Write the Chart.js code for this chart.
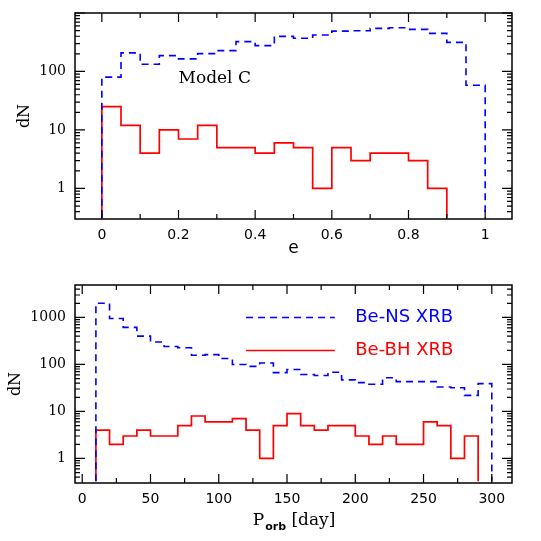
<!DOCTYPE html>
<html>
<head>
<meta charset="utf-8">
<script src="https://cdn.jsdelivr.net/npm/chart.js@4"></script>
<style>
  html, body { margin: 0; padding: 0; background: #fff; }
  #wrap { position: relative; width: 541px; height: 541px; }
  canvas { position: absolute; left: 0; }
</style>
</head>
<body>
<div id="wrap">
  <canvas id="painelE" width="541" height="270" style="top:0px"></canvas>
  <canvas id="painelP" width="541" height="271" style="top:270px"></canvas>
</div>
<script>
// excentricidade: bins de 0.05
const eBordas = [0, 0.05, 0.1, 0.15, 0.2, 0.25, 0.3, 0.35, 0.4, 0.45, 0.5,
                 0.55, 0.6, 0.65, 0.7, 0.75, 0.8, 0.85, 0.9, 0.95, 1.0];
const eNS = [80, 208, 133, 187, 164, 202, 227, 324, 277, 399,
             369, 420, 490, 497, 545, 559, 524, 448, 315, 58];
const eBH = [25, 12, 4, 10, 7, 12, 5, 5, 4, 6, 5, 1, 5, 3, 4, 4, 3, 1];
const eTicks = [0, 0.2, 0.4, 0.6, 0.8, 1];
const eRotulos = ['0', '0.2', '0.4', '0.6', '0.8', '1'];
const eMenores = [0.1, 0.3, 0.5, 0.7, 0.9];

// periodo orbital: bins de 10 dias
const pBordas = [10, 20, 30, 40, 50, 60, 70, 80, 90, 100, 110, 120, 130, 140, 150,
                 160, 170, 180, 190, 200, 210, 220, 230, 240, 250, 260, 270, 280, 290, 300];
const pNS = [2000, 950, 615, 400, 300, 240, 226, 157, 162, 134, 100, 91, 107, 67, 78,
             61, 58, 68, 47, 41, 38, 52, 43, 43, 43, 33, 32, 22, 39];
const pBH = [4, 2, 3, 4, 3, 3, 5, 8, 6, 6, 7, 4, 1, 5, 9, 5, 4, 5, 5, 3, 2, 3, 2, 2, 6, 5, 1, 3];
const pTicks = [0, 50, 100, 150, 200, 250, 300];
const pRotulos = ['0', '50', '100', '150', '200', '250', '300'];
const pMenores = [25, 75, 125, 175, 225, 275];

const dnTopo = [1, 10, 100, 1000];
const dnTopoRot = ['1', '10', '100', ''];
const dnBaixo = [1, 10, 100, 1000];
const dnBaixoRot = ['1', '10', '100', '1000'];

const AZUL = '#0000ff';
const VERMELHO = '#ff0000';

// monta a curva em degraus a partir das bordas e contagens
function degraus(bordas, contagens, piso) {
  var pts = [{ x: bordas[0], y: piso }];
  for (var i = 0; i < contagens.length; i++) {
    pts.push({ x: bordas[i], y: contagens[i] });
  }
  pts.push({ x: bordas[contagens.length], y: piso });
  return pts;
}

// menores do eixo log (2..9 x decada)
function menoresLog(min, max) {
  var lista = [];
  for (var d = 0.1; d < max; d *= 10) {
    for (var k = 2; k <= 9; k++) {
      var v = k * d;
      if (v > min && v < max) lista.push(v);
    }
  }
  return lista;
}

// ticks para dentro nos quatro lados + moldura
const moldura = {
  id: 'moldura',
  afterDatasetsDraw(chart, args, opts) {
    var ctx = chart.ctx, a = chart.chartArea;
    var sx = chart.scales.x, sy = chart.scales.y;
    ctx.save();
    ctx.strokeStyle = '#000';
    ctx.lineWidth = 1.2;
    ctx.beginPath();
    function tx(v, len) {
      var p = sx.getPixelForValue(v);
      ctx.moveTo(p, a.bottom); ctx.lineTo(p, a.bottom - len);
      ctx.moveTo(p, a.top); ctx.lineTo(p, a.top + len);
    }
    function ty(v, len) {
      var p = sy.getPixelForValue(v);
      ctx.moveTo(a.left, p); ctx.lineTo(a.left + len, p);
      ctx.moveTo(a.right, p); ctx.lineTo(a.right - len, p);
    }
    opts.xMaior.forEach(function (v) { tx(v, 9); });
    opts.xMenor.forEach(function (v) { tx(v, 5); });
    opts.yMaior.forEach(function (v) { ty(v, 10); });
    opts.yMenor.forEach(function (v) { ty(v, 5); });
    ctx.stroke();
    ctx.lineWidth = 1.5;
    ctx.strokeRect(a.left, a.top, a.right - a.left, a.bottom - a.top);
    ctx.restore();
  }
};

// textos soltos (rotulo do modelo, legenda, titulo com subscrito)
const textos = {
  id: 'textos',
  afterDraw(chart, args, opts) {
    var ctx = chart.ctx, sx = chart.scales.x, sy = chart.scales.y, a = chart.chartArea;
    ctx.save();
    ctx.textBaseline = 'middle';
    (opts.rotulos || []).forEach(function (r) {
      ctx.font = r.fonte;
      ctx.fillStyle = r.cor;
      ctx.textAlign = 'left';
      ctx.fillText(r.texto, sx.getPixelForValue(r.x), sy.getPixelForValue(r.y));
    });
    (opts.linhas || []).forEach(function (l) {
      ctx.strokeStyle = l.cor;
      ctx.lineWidth = 1.6;
      ctx.setLineDash(l.tracos || []);
      ctx.beginPath();
      var py = sy.getPixelForValue(l.y);
      ctx.moveTo(sx.getPixelForValue(l.x0), py);
      ctx.lineTo(sx.getPixelForValue(l.x1), py);
      ctx.stroke();
    });
    ctx.setLineDash([]);
    if (opts.tituloP) {
      var f1 = '17px "DejaVu Serif"', f2 = 'bold 11px "DejaVu Sans"';
      ctx.font = f1; var w1 = ctx.measureText('P').width;
      var w3 = ctx.measureText(' [day]').width;
      ctx.font = f2; var w2 = ctx.measureText('orb').width;
      var x0 = (a.left + a.right) / 2 - (w1 + w2 + w3) / 2;
      var yb = opts.tituloP.y;
      ctx.fillStyle = '#000';
      ctx.textAlign = 'left';
      ctx.textBaseline = 'alphabetic';
      ctx.font = f1; ctx.fillText('P', x0, yb);
      ctx.font = f2; ctx.fillText('orb', x0 + w1 + 1, yb + 5);
      ctx.font = f1; ctx.fillText(' [day]', x0 + w1 + w2 + 1, yb);
    }
    ctx.restore();
  }
};

function eixoX(min, max, ticks, rotulos, altura, titulo) {
  return {
    type: 'linear', min: min, max: max,
    grid: { display: false, drawTicks: false },
    border: { display: false },
    afterBuildTicks: function (s) { s.ticks = ticks.map(function (v) { return { value: v }; }); },
    afterFit: function (s) { s.height = altura; s.paddingLeft = 0; s.paddingRight = 0; },
    ticks: {
      padding: 8, color: '#000', maxRotation: 0, autoSkip: false,
      font: { family: 'DejaVu Sans', size: 14 },
      callback: function (v, i) { return rotulos[i]; }
    },
    title: titulo
  };
}

function eixoY(min, max, ticks, rotulos, padTitulo) {
  return {
    type: 'logarithmic', min: min, max: max,
    grid: { display: false, drawTicks: false },
    border: { display: false },
    afterBuildTicks: function (s) { s.ticks = ticks.map(function (v) { return { value: v }; }); },
    afterFit: function (s) { s.width = 75; s.paddingTop = 0; s.paddingBottom = 0; },
    ticks: {
      padding: 9, color: '#000', autoSkip: false,
      font: { family: 'DejaVu Serif', size: 14 },
      callback: function (v, i) { return rotulos[i]; }
    },
    title: {
      display: true, text: 'dN', color: '#000',
      font: { family: 'DejaVu Serif', size: 16 },
      padding: { top: padTitulo, bottom: 0 }
    }
  };
}

var pisoE = 0.315, topoE = 1000;
var pisoP = 0.325, topoP = 4900;

new Chart(document.getElementById('painelE'), {
  type: 'line',
  data: {
    datasets: [
      { data: degraus(eBordas, eNS, pisoE), borderColor: AZUL, borderWidth: 1.6,
        borderDash: [7, 5], stepped: true, pointRadius: 0, fill: false },
      { data: degraus(eBordas, eBH, pisoE), borderColor: VERMELHO, borderWidth: 1.7,
        stepped: true, pointRadius: 0, fill: false }
    ]
  },
  options: {
    responsive: false, animation: false, devicePixelRatio: 1,
    layout: { padding: { top: 13, right: 29, left: 0, bottom: 0 } },
    scales: {
      x: eixoX(-0.07, 1.07, eTicks, eRotulos, 51, {
        display: true, text: 'e', color: '#000',
        font: { family: 'DejaVu Sans', size: 17 }, padding: { top: 0, bottom: 11 }
      }),
      y: eixoY(pisoE, topoE, dnTopo, dnTopoRot, 15.4)
    },
    plugins: {
      legend: { display: false }, tooltip: { enabled: false },
      moldura: { xMaior: eTicks, xMenor: eMenores, yMaior: dnTopo, yMenor: menoresLog(pisoE, topoE) },
      textos: { rotulos: [{ texto: 'Model C', x: 0.2, y: 75, cor: '#000', fonte: '17px "DejaVu Serif"' }] }
    }
  },
  plugins: [moldura, textos]
});

new Chart(document.getElementById('painelP'), {
  type: 'line',
  data: {
    datasets: [
      { data: degraus(pBordas, pNS, pisoP), borderColor: AZUL, borderWidth: 1.6,
        borderDash: [7, 5], stepped: true, pointRadius: 0, fill: false },
      { data: degraus(pBordas, pBH, pisoP), borderColor: VERMELHO, borderWidth: 1.7,
        stepped: true, pointRadius: 0, fill: false }
    ]
  },
  options: {
    responsive: false, animation: false, devicePixelRatio: 1,
    layout: { padding: { top: 15, right: 29, left: 0, bottom: 0 } },
    scales: {
      x: eixoX(-5.3, 314.8, pTicks, pRotulos, 58, { display: false }),
      y: eixoY(pisoP, topoP, dnBaixo, dnBaixoRot, 6)
    },
    plugins: {
      legend: { display: false }, tooltip: { enabled: false },
      moldura: { xMaior: pTicks, xMenor: pMenores, yMaior: dnBaixo, yMenor: menoresLog(pisoP, topoP) },
      textos: {
        linhas: [
          { x0: 120, x1: 185, y: 1000, cor: AZUL, tracos: [7, 5] },
          { x0: 120, x1: 185, y: 198, cor: VERMELHO }
        ],
        rotulos: [
          { texto: 'Be-NS XRB', x: 200, y: 1000, cor: AZUL, fonte: '18px "DejaVu Sans"' },
          { texto: 'Be-BH XRB', x: 200, y: 198, cor: VERMELHO, fonte: '18px "DejaVu Sans"' }
        ],
        tituloP: { y: 255 }
      }
    }
  },
  plugins: [moldura, textos]
});
</script>
</body>
</html>
